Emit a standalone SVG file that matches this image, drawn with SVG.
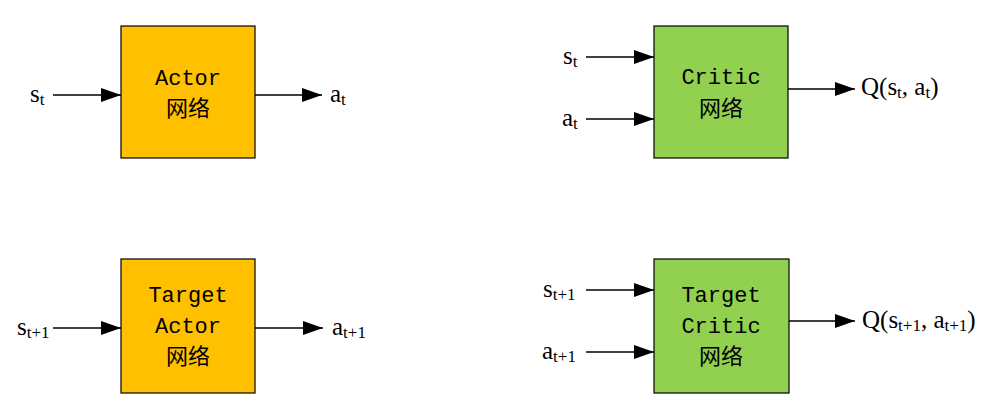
<svg xmlns="http://www.w3.org/2000/svg" width="998" height="414" viewBox="0 0 998 414">
<style>
.box{stroke:#000;stroke-width:1.2}
.actor{fill:#FFC000}
.critic{fill:#92D050}
.bt{font-family:"Liberation Mono","Noto Sans CJK SC",monospace;font-size:22px;fill:#000;text-anchor:middle}
.lb{font-family:"Liberation Serif","Times New Roman",serif;font-size:25px;fill:#000}
.sub{font-size:17px}
.edge{stroke:#000;stroke-width:1.5;fill:none;marker-end:url(#arr)}
</style>
<defs>
<marker id="arr" markerUnits="userSpaceOnUse" markerWidth="20" markerHeight="14" refX="20" refY="7" orient="auto">
<path d="M0,0 L20,7 L0,14 Z" fill="#000"/>
</marker>
</defs>
<rect width="998" height="414" fill="#fff"/>
<g id="actor">
<rect class="box actor" x="121" y="26" width="134" height="132"/>
<text class="bt" x="188" y="85">Actor</text>
<text class="bt" x="188" y="116">网络</text>
</g>
<g id="critic">
<rect class="box critic" x="654" y="26" width="134" height="132"/>
<text class="bt" x="721" y="84">Critic</text>
<text class="bt" x="721" y="116">网络</text>
</g>
<g id="target-actor">
<rect class="box actor" x="121" y="259" width="134" height="134"/>
<text class="bt" x="188" y="302">Target</text>
<text class="bt" x="188" y="333">Actor</text>
<text class="bt" x="188" y="364">网络</text>
</g>
<g id="target-critic">
<rect class="box critic" x="654" y="259" width="135" height="134"/>
<text class="bt" x="721" y="302">Target</text>
<text class="bt" x="721" y="333">Critic</text>
<text class="bt" x="721" y="364">网络</text>
</g>
<g id="labels">
<text class="lb" x="30" y="102">s<tspan class="sub" dy="3">t</tspan></text>
<text class="lb" x="330" y="102">a<tspan class="sub" dy="3">t</tspan></text>
<text class="lb" x="563" y="64">s<tspan class="sub" dy="3">t</tspan></text>
<text class="lb" x="562" y="126">a<tspan class="sub" dy="3">t</tspan></text>
<text class="lb" x="861" y="95">Q(s<tspan class="sub" dy="3">t</tspan><tspan dy="-3">, a</tspan><tspan class="sub" dy="3">t</tspan><tspan dy="-3">)</tspan></text>
<text class="lb" x="17" y="335">s<tspan class="sub" dy="3">t+1</tspan></text>
<text class="lb" x="332" y="335">a<tspan class="sub" dy="3">t+1</tspan></text>
<text class="lb" x="543" y="297">s<tspan class="sub" dy="3">t+1</tspan></text>
<text class="lb" x="542" y="359">a<tspan class="sub" dy="3">t+1</tspan></text>
<text class="lb" x="862" y="328">Q(s<tspan class="sub" dy="3">t+1</tspan><tspan dy="-3">, a</tspan><tspan class="sub" dy="3">t+1</tspan><tspan dy="-3">)</tspan></text>
</g>
<g id="connectors">
<line class="edge" x1="53" y1="95" x2="121" y2="95"/>
<line class="edge" x1="255" y1="95" x2="322" y2="95"/>
<line class="edge" x1="586" y1="57" x2="654" y2="57"/>
<line class="edge" x1="586" y1="119" x2="654" y2="119"/>
<line class="edge" x1="788" y1="89" x2="855" y2="89"/>
<line class="edge" x1="53" y1="328" x2="121" y2="328"/>
<line class="edge" x1="255" y1="328" x2="323" y2="328"/>
<line class="edge" x1="586" y1="290" x2="654" y2="290"/>
<line class="edge" x1="586" y1="352" x2="654" y2="352"/>
<line class="edge" x1="789" y1="321" x2="855" y2="321"/>
</g>
</svg>
